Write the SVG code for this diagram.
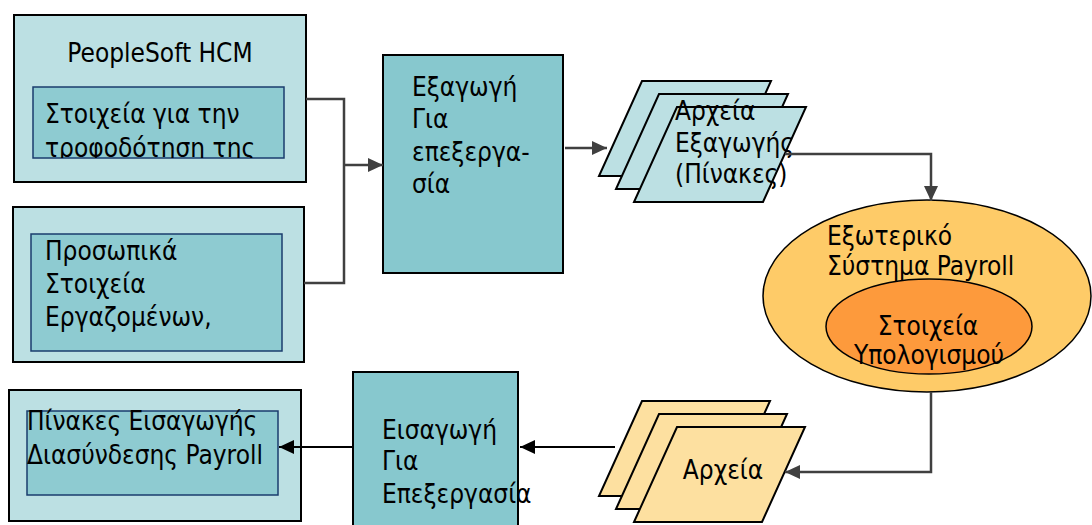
<svg xmlns="http://www.w3.org/2000/svg" width="1092" height="525" viewBox="0 0 1092 525">
  <style>
    text { font-family: "DejaVu Sans Condensed", "DejaVu Sans", sans-serif; font-stretch: condensed; font-size: 26px; fill: #000; }
    .outer { fill: #bce0e3; stroke: #000; stroke-width: 2; }
    .inner { fill: #8ecbd1; stroke: #1a3c6e; stroke-width: 1.5; }
    .proc { fill: #87c8ce; stroke: #000; stroke-width: 2; }
    .fileBlue { fill: #bce0e3; stroke: #000; stroke-width: 2; stroke-linejoin: miter; }
    .fileTan { fill: #fde0a0; stroke: #000; stroke-width: 2; stroke-linejoin: miter; }
    .wire { fill: none; stroke: #404040; stroke-width: 2.5; }
    .wireDark { fill: none; stroke: #000; stroke-width: 2; }
    .mid { text-anchor: middle; }
  </style>
  <defs>
    <marker id="headGray" markerUnits="userSpaceOnUse" markerWidth="16" markerHeight="16" refX="15" refY="8" orient="auto">
      <path d="M0,1 L15,8 L0,15 z" fill="#404040"/>
    </marker>
    <marker id="headBlack" markerUnits="userSpaceOnUse" markerWidth="16" markerHeight="16" refX="15" refY="8" orient="auto">
      <path d="M0,1 L15,8 L0,15 z" fill="#000"/>
    </marker>
    <clipPath id="clipFeed"><rect x="33" y="87" width="251" height="71"/></clipPath>
    <clipPath id="clipPersonal"><rect x="31" y="234" width="251" height="117"/></clipPath>
  </defs>

  <!-- PeopleSoft HCM source -->
  <g id="hcm">
    <rect class="outer" x="14" y="15" width="292" height="167"/>
    <text class="mid" x="160" y="62">PeopleSoft HCM</text>
    <rect class="inner" x="33" y="87" width="251" height="71"/>
    <g clip-path="url(#clipFeed)">
      <text x="45" y="123">Στοιχεία για την</text>
      <text x="45" y="157">τροφοδότηση της</text>
    </g>
  </g>

  <!-- personal employee data -->
  <g id="personal">
    <rect class="outer" x="13" y="207" width="291" height="155"/>
    <rect class="inner" x="31" y="234" width="251" height="117"/>
    <g clip-path="url(#clipPersonal)">
      <text x="45" y="260">Προσωπικά</text>
      <text x="45" y="293">Στοιχεία</text>
      <text x="45" y="326">Εργαζομένων,</text>
    </g>
  </g>

  <!-- export process -->
  <g id="export">
    <rect class="proc" x="383" y="55" width="180" height="218"/>
    <text x="412" y="96">Εξαγωγή</text>
    <text x="412" y="128">Για</text>
    <text x="412" y="161">επεξεργα-</text>
    <text x="412" y="193">σία</text>
  </g>

  <!-- exported files -->
  <g id="exportFiles">
    <path class="fileBlue" d="M642 81 H771 L728 176 H599 Z"/>
    <path class="fileBlue" d="M659 94 H788 L745 189 H616 Z"/>
    <path class="fileBlue" d="M677 107 H806 L763 202 H634 Z"/>
    <text x="675" y="120">Αρχεία</text>
    <text x="675" y="152">Εξαγωγής</text>
    <text x="675" y="183">(Πίνακες)</text>
  </g>

  <!-- external payroll system -->
  <g id="payroll">
    <ellipse cx="927" cy="296" rx="164" ry="96" fill="#fecb68" stroke="#000" stroke-width="1.5"/>
    <text x="827" y="245">Εξωτερικό</text>
    <text x="827" y="275">Σύστημα Payroll</text>
  </g>

  <g id="calc">
    <ellipse cx="929" cy="326.5" rx="103" ry="47.5" fill="#fd9a3c" stroke="#000" stroke-width="1.5"/>
    <text class="mid" x="928" y="335">Στοιχεία</text>
    <text class="mid" x="929" y="364">Υπολογισμού</text>
  </g>

  <!-- returned files -->
  <g id="returnFiles">
    <path class="fileTan" d="M642 401 H770 L727 496 H599 Z"/>
    <path class="fileTan" d="M659 414 H787 L744 509 H616 Z"/>
    <path class="fileTan" d="M677 427 H805 L762 522 H634 Z"/>
    <text class="mid" x="723" y="479">Αρχεία</text>
  </g>

  <!-- import process -->
  <g id="import">
    <rect class="proc" x="353" y="372" width="165" height="160"/>
    <text x="382" y="439">Εισαγωγή</text>
    <text x="382" y="470">Για</text>
    <text x="382" y="503">Επεξεργασία</text>
  </g>

  <!-- payroll interface tables -->
  <g id="interface">
    <rect class="outer" x="9" y="390" width="292" height="131"/>
    <rect class="inner" x="27" y="411" width="251" height="84"/>
    <text x="27" y="430">Πίνακες Εισαγωγής</text>
    <text x="27" y="464">Διασύνδεσης Payroll</text>
  </g>

  <!-- connectors, drawn last so arrowheads sit on top of the boxes -->
  <g id="connectors">
    <path class="wire" d="M306 99 H344 V283 H304"/>
    <path class="wire" d="M344 165 H383" marker-end="url(#headGray)"/>
    <path class="wire" d="M565 148 H607" marker-end="url(#headGray)"/>
    <path class="wire" d="M785 154 H931 V201" marker-end="url(#headGray)"/>
    <path class="wire" d="M931 392 V472 H785" marker-end="url(#headGray)"/>
    <path class="wireDark" d="M615 447 H520" marker-end="url(#headBlack)"/>
    <path class="wireDark" d="M353 447 H279" marker-end="url(#headBlack)"/>
  </g>
</svg>
